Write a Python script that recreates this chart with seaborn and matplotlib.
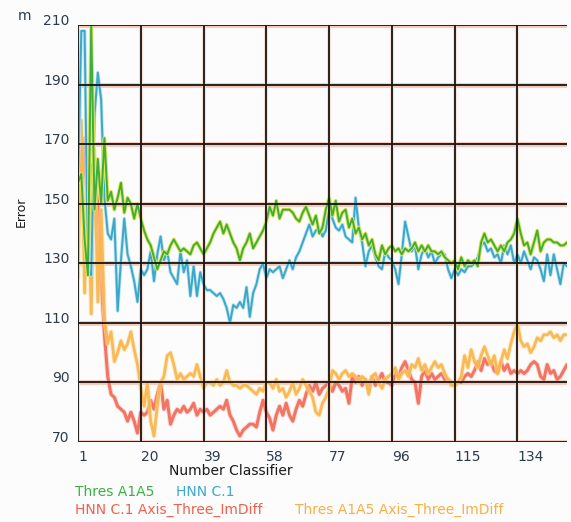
import numpy as np
import pandas as pd
import matplotlib
matplotlib.use("Agg")
import matplotlib.pyplot as plt
import matplotlib.patheffects as pe
import seaborn as sns

# ---------------- data ----------------
series_names = ["Thres A1A5", "HNN C.1",
                "HNN C.1 Axis_Three_ImDiff", "Thres A1A5 Axis_Three_ImDiff"]

thres_a1a5 = [
    157, 160, 138, 126, 210, 148, 165, 150, 172, 151,
    154, 148, 152, 157, 147, 152, 150, 145, 150, 145,
    141, 138, 136, 132, 128, 131, 134, 133, 136, 138,
    136, 134, 135, 134, 133, 136, 137, 135, 133, 135,
    137, 140, 142, 144, 140, 143, 140, 137, 135, 131,
    135, 137, 140, 135, 137, 139, 141, 144, 149, 146,
    151, 145, 148, 148, 148, 147, 145, 144, 147, 149,
    146, 143, 146, 140, 142, 148, 152, 146, 151, 144,
    147, 148, 142, 145, 140, 142, 138, 140, 136, 138,
    133, 131, 136, 133, 135, 136, 134, 135, 133, 135,
    134, 135, 137, 134, 136, 134, 136, 134, 134, 133,
    134, 132, 131, 130, 131, 128, 132, 129, 131, 130,
    131, 129, 137, 140, 137, 138, 136, 134, 136, 134,
    137, 138, 140, 145, 140, 136, 137, 133, 137, 141,
    134, 137, 138, 138, 137, 137, 136, 136, 137]

hnn_c1 = [
    157, 208, 208, 128, 126, 180, 194, 185, 152, 140,
    138, 145, 114, 131, 145, 133, 129, 124, 117, 128,
    126, 128, 134, 124, 133, 139, 131, 134, 127, 125,
    123, 134, 127, 131, 119, 129, 119, 127, 123, 121,
    121, 120, 119, 120, 118, 115, 110, 116, 115, 117,
    115, 122, 112, 120, 123, 128, 130, 125, 128, 127,
    128, 129, 125, 128, 131, 128, 132, 134, 137, 140,
    143, 139, 141, 142, 139, 141, 148, 145, 142, 141,
    143, 139, 138, 137, 152, 142, 137, 129, 134, 136,
    132, 129, 128, 134, 132, 131, 128, 123, 133, 144,
    139, 134, 136, 128, 133, 135, 132, 134, 130, 132,
    133, 133, 128, 125, 128, 126, 128, 127, 129, 129,
    130, 132, 136, 137, 134, 135, 132, 133, 130, 136,
    133, 136, 130, 133, 130, 134, 131, 128, 132, 131,
    128, 124, 133, 126, 133, 128, 123, 130, 129]

hnn_c1_axis = [
    202, 150, 172, 140, 163, 158, 150, 125, 106, 92,
    86, 85, 82, 81, 80, 77, 80, 77, 73, 80,
    79, 80, 84, 81, 86, 90, 81, 84, 76, 79,
    81, 80, 82, 80, 81, 83, 79, 81, 80, 81,
    79, 80, 81, 82, 81, 84, 79, 77, 74, 72,
    74, 75, 76, 76, 75, 80, 84, 80, 78, 74,
    79, 82, 79, 83, 79, 77, 81, 84, 82, 86,
    89, 87, 90, 86, 88, 89, 90, 87, 90, 89,
    87, 88, 83, 92, 90, 92, 89, 91, 89, 92,
    89, 91, 93, 90, 90, 89, 93, 92, 95, 97,
    94, 91, 90, 83, 92, 94, 91, 93, 91, 92,
    93, 91, 91, 90, 89, 90, 90, 92, 93, 92,
    94, 97, 94, 98, 96, 97, 94, 93, 97, 94,
    96, 93, 94, 93, 94, 93, 94, 96, 97, 96,
    92, 91, 96, 93, 94, 91, 92, 94, 96]

thres_a1a5_axis = [
    125, 178, 120, 160, 113, 168, 117, 148, 112, 103,
    107, 97, 100, 104, 101, 103, 107, 101, 96, 88,
    82, 90, 77, 72, 82, 90, 92, 99, 100, 96,
    91, 93, 91, 92, 93, 92, 96, 92, 88, 90,
    90, 89, 91, 89, 90, 94, 90, 89, 89, 88,
    89, 89, 88, 87, 86, 88, 87, 90, 90, 88,
    91, 87, 88, 85, 87, 90, 86, 88, 91, 89,
    87, 85, 80, 79, 83, 85, 88, 94, 93, 91,
    93, 94, 92, 93, 92, 90, 92, 91, 86, 92,
    93, 90, 88, 91, 92, 93, 95, 91, 93, 94,
    92, 96, 95, 98, 94, 96, 93, 95, 97, 95,
    96, 93, 91, 89, 89, 90, 92, 99, 95, 101,
    97, 95, 99, 102, 99, 96, 99, 93, 97, 101,
    98, 103, 107, 110, 104, 102, 103, 100, 102, 105,
    104, 106, 106, 107, 105, 106, 104, 106, 106]

x_ticks = [1, 20, 39, 58, 77, 96, 115, 134]
y_ticks = [70, 90, 110, 130, 150, 170, 190, 210]

classifier = list(range(1, len(thres_a1a5) + 1))
df = pd.DataFrame({
    "Number Classifier": classifier * 4,
    "Error": thres_a1a5 + hnn_c1 + hnn_c1_axis + thres_a1a5_axis,
    "series": sum([[n] * len(classifier) for n in series_names], []),
})

colors = {
    "Thres A1A5": "#3fae3f",
    "HNN C.1": "#3ba7c9",
    "HNN C.1 Axis_Three_ImDiff": "#f26a58",
    "Thres A1A5 Axis_Three_ImDiff": "#f9b548",
}
text_colors = {
    "Thres A1A5": "#3cb043",
    "HNN C.1": "#3aa8c8",
    "HNN C.1 Axis_Three_ImDiff": "#f0604c",
    "Thres A1A5 Axis_Three_ImDiff": "#f8b040",
}

# ---------------- figure ----------------
sns.set_theme(style="white")
plt.rcParams["font.family"] = ["DejaVu Sans"]

fig = plt.figure(figsize=(5.71, 5.22), dpi=100)
fig.patch.set_facecolor("#fcfcfd")
ax = fig.add_axes([78 / 571, 1 - 442 / 522, 489 / 571, 417 / 522])
ax.set_facecolor("#fcfcfd")

styles = {
    "HNN C.1 Axis_Three_ImDiff": dict(lw=2.2, zorder=3, alpha=0.9,
                                      path_effects=[pe.Stroke(linewidth=3.6, foreground="#f9c8bc", alpha=0.6), pe.Normal()]),
    "Thres A1A5 Axis_Three_ImDiff": dict(lw=2.0, zorder=4, alpha=0.9,
                                         path_effects=[pe.Stroke(linewidth=3.4, foreground="#fce0a8", alpha=0.6), pe.Normal()]),
    "HNN C.1": dict(lw=1.4, zorder=5,
                    path_effects=[pe.Stroke(linewidth=2.6, foreground="#bfe3ef"), pe.Normal()]),
    "Thres A1A5": dict(lw=1.4, zorder=6,
                       path_effects=[pe.Stroke(linewidth=2.8, foreground="#e4e45a"), pe.Normal()]),
}
draw_order = ["HNN C.1 Axis_Three_ImDiff", "Thres A1A5 Axis_Three_ImDiff", "HNN C.1", "Thres A1A5"]
for name in draw_order:
    sub = df[df["series"] == name]
    sns.lineplot(data=sub, x="Number Classifier", y="Error", ax=ax,
                 color=colors[name], legend=False, **styles[name])

# grid: salmon glow under the data, black lines over it
for yv in y_ticks:
    ax.axhline(yv, color="#f8c4b4", lw=3.4, zorder=1)
    ax.axhline(yv, color="#151515", lw=1.3, zorder=8)
for xv in x_ticks:
    ax.axvline(xv, color="#fad8c8", lw=2.6, zorder=1)
    ax.axvline(xv, color="#151515", lw=1.3, zorder=8)

ax.set_xlim(1, len(classifier))
ax.set_ylim(70, 210)
ax.set_xticks(x_ticks)
ax.set_yticks(y_ticks)
for s in ax.spines.values():
    s.set_visible(False)
ax.grid(False)
ax.tick_params(axis="both", direction="out", length=4, width=1.2, color="#1e2a36",
               labelsize=10, labelcolor="#2b3b4b", pad=2)
for lab in ax.get_xticklabels():
    lab.set_horizontalalignment("left")
for lab in ax.get_yticklabels():
    lab.set_verticalalignment("baseline")

ax.set_xlabel("Number Classifier", fontsize=10, color="#1a1a1a")
ax.xaxis.set_label_coords((231 - 78) / 489, (442 - 464) / 417)
ax.set_ylabel("Error", fontsize=9, color="#1a1a1a")
ax.yaxis.set_label_coords((28 - 78) / 489, (442 - 212) / 417)

fig.text(18 / 571, 1 - 16 / 522, "m", fontsize=10, color="#2b3b4b", ha="left", va="center")

# text legend
row1_y = 1 - 492 / 522
row2_y = 1 - 510 / 522
fig.text(75 / 571, row1_y, series_names[0], fontsize=10,
         color=text_colors[series_names[0]], ha="left", va="center")
fig.text(176 / 571, row1_y, series_names[1], fontsize=10,
         color=text_colors[series_names[1]], ha="left", va="center")
fig.text(75 / 571, row2_y, series_names[2], fontsize=10,
         color=text_colors[series_names[2]], ha="left", va="center")
fig.text(295 / 571, row2_y, series_names[3], fontsize=10,
         color=text_colors[series_names[3]], ha="left", va="center")

fig.savefig("out.png", dpi=100, facecolor=fig.get_facecolor())
